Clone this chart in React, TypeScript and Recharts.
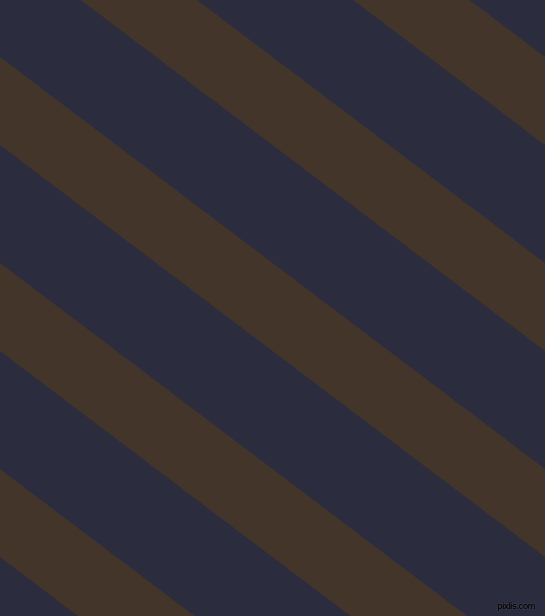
import React from "react";
import { ComposedChart, Area, XAxis, YAxis } from "recharts";

// Stripe edges: y of each brown band's upper edge
// at the left (x = 0) and right (x = 545) borders, and its vertical thickness.
const edgeX = [0, 545];
const bandTopLeft = [-355, -149, 57, 263, 469];
const bandTopRight = [57, 263, 469, 675, 881];
const bandThickness = [88, 88, 88, 88, 88];
const watermark = "pixlis.com";

const NAVY = "#2b2d3f";
const BROWN = "#44352a";

const data = edgeX.map((x, i) => {
  const row: Record<string, any> = { x };
  bandTopLeft.forEach((_, k) => {
    const top = i === 0 ? bandTopLeft[k] : bandTopRight[k];
    row["b" + k] = [top, top + bandThickness[k]];
  });
  return row;
});

export default function App() {
  return (
    <div style={{ position: "absolute", left: 0, top: 0, width: 545, height: 616, background: NAVY, overflow: "hidden" }}>
      <style>{`body{margin:0}`}</style>
      <ComposedChart width={545} height={616} data={data} margin={{ top: 0, right: 0, bottom: 0, left: 0 }}>
        <XAxis type="number" dataKey="x" domain={[0, 545]} hide allowDataOverflow />
        <YAxis type="number" domain={[0, 616]} reversed hide allowDataOverflow />
        {bandTopLeft.map((_, k) => (
          <Area
            key={k}
            type="linear"
            dataKey={"b" + k}
            stroke="none"
            fill={BROWN}
            fillOpacity={1}
            isAnimationActive={false}
            dot={false}
            activeDot={false}
          />
        ))}
      </ComposedChart>
      <span
        style={{
          position: "absolute",
          left: 497,
          top: 601,
          whiteSpace: "nowrap",
          fontFamily: "Liberation Sans, sans-serif",
          fontSize: 9,
          fontWeight: "bold",
          letterSpacing: -0.6,
          lineHeight: "11px",
          color: "#000",
          textShadow: "0 0 1px #55576a, 0 0 1px #55576a",
        }}
      >
        {watermark}
      </span>
    </div>
  );
}
